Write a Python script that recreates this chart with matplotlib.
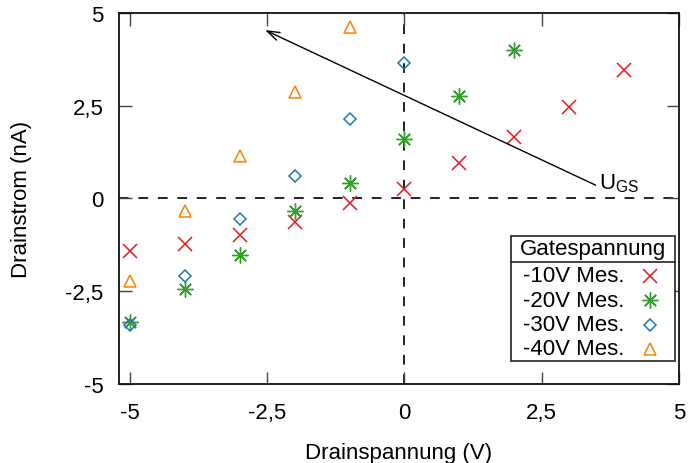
import matplotlib
matplotlib.use("Agg")
import matplotlib.pyplot as plt
from matplotlib.lines import Line2D
from matplotlib.patches import Rectangle

plt.rcParams['font.family'] = ['Liberation Sans', 'DejaVu Sans']

# Drain voltage steps (V)
u_ds = [-5, -4, -3, -2, -1, 0, 1, 2, 3, 4]

# Measured drain current (nA) per gate voltage
i_10 = [-1.42, -1.23, -0.98, -0.64, -0.13, 0.26, 0.95, 1.65, 2.47, 3.47]
i_20 = [-3.32, -2.44, -1.51, -0.35, 0.43, 1.60, 2.77, 4.00]
i_30 = [-3.42, -2.10, -0.54, 0.60, 2.15, 3.66]
i_40 = [-2.22, -0.33, 1.14, 2.86, 4.63]

labels = ['-10V Mes.', '-20V Mes.', '-30V Mes.', '-40V Mes.']
legend_title = 'Gatespannung'
xticks = [-5, -2.5, 0, 2.5, 5]
xticklabels = ['-5', '-2,5', '0', '2,5', '5']
yticks = [-5, -2.5, 0, 2.5, 5]
yticklabels = ['-5', '-2,5', '0', '2,5', '5']

W, H = 689, 464
fig = plt.figure(figsize=(W / 100, H / 100), dpi=100)
ax = fig.add_axes([0.1727, 0.1703, 0.8128, 0.7995])

FS = 16
c_red = '#e41a1c'
c_green = '#33a02c'
c_blue = '#1f78b4'
c_orange = '#ff7f00'

ax.axhline(0, color='#222222', lw=1.4, ls=(0, (5, 5)), zorder=1)
ax.axvline(0, color='#222222', lw=1.4, ls=(0, (5, 5)), zorder=1)

styles = [
    dict(marker='x', ms=10, mew=1.1, color=c_red),
    dict(marker=(8, 2, 0), ms=11.5, mew=1.0, color=c_green),
    dict(marker='D', ms=6.5, mew=1.1, mfc='none', color=c_blue),
    dict(marker='^', ms=9, mew=1.1, mfc='none', color=c_orange),
]
for ys, st in zip([i_10, i_20, i_30, i_40], styles):
    ax.plot(u_ds[:len(ys)], ys, ls='none', zorder=3, **st)

# Arrow indicating increasing gate-source voltage
ax.annotate('', xy=(-2.54, 4.54), xytext=(3.48, 0.36),
            arrowprops=dict(arrowstyle='->,head_length=0.9,head_width=0.3',
                            color='black', lw=1.0, shrinkA=0, shrinkB=0))
ax.text(3.55, 0.43, r'U$_{\mathregular{GS}}$', fontsize=FS, va='center', ha='left')

ax.set_xlim(-5.2, 5.0)
ax.set_ylim(-5, 5)
ax.set_xticks(xticks)
ax.set_xticklabels(xticklabels)
ax.set_yticks(yticks)
ax.set_yticklabels(yticklabels)
ax.tick_params(direction='in', length=9, width=1.0, color='#444444',
               top=True, right=True, labelsize=FS)
ax.tick_params(axis='x', pad=13)
ax.tick_params(axis='y', pad=11)
for s in ax.spines.values():
    s.set_linewidth(1.3)
    s.set_color('#111111')

ax.set_xlabel('Drainspannung (V)', fontsize=FS, labelpad=14)
ax.set_ylabel('Drainstrom (nA)', fontsize=FS, labelpad=24)


# Key box with title row, placed in pixel units of the figure (origin top-left)
def fx(px):
    return px / W


def fy(py):
    return 1 - py / H


box_l, box_r, box_t, box_b = 511, 675, 237, 362
sep_y = 263
fig.add_artist(Rectangle((fx(box_l), fy(box_b)), fx(box_r) - fx(box_l),
                         fy(box_t) - fy(box_b), transform=fig.transFigure,
                         fill=True, facecolor='white', edgecolor='#222222',
                         lw=1.2, zorder=5))
fig.add_artist(Line2D([fx(box_l), fx(box_r)], [fy(sep_y), fy(sep_y)],
                      color='#222222', lw=1.2, zorder=6))
fig.text(fx((box_l + box_r) / 2), fy(250), legend_title, fontsize=FS,
         ha='center', va='center', zorder=6)
for k, (lab, st) in enumerate(zip(labels, styles)):
    yy = fy(277 + 24.3 * k)
    fig.text(fx(523), yy, lab, fontsize=FS, ha='left', va='center', zorder=6)
    fig.add_artist(Line2D([fx(650)], [yy], ls='none', zorder=6, **st))

fig.savefig('out.png', dpi=100)
